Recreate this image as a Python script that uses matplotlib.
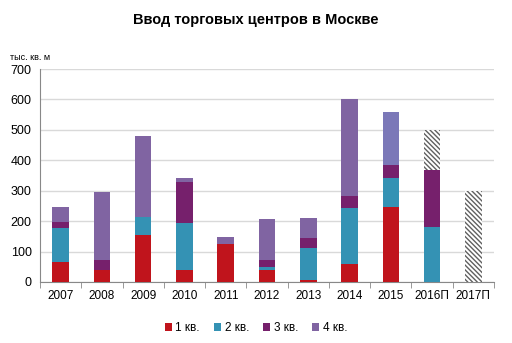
import matplotlib
matplotlib.use("Agg")
import matplotlib.pyplot as plt
import numpy as np

plt.rcParams['font.family'] = ['Liberation Sans Narrow', 'Liberation Sans', 'DejaVu Sans']

years = ["2007", "2008", "2009", "2010", "2011", "2012", "2013", "2014", "2015", "2016П", "2017П"]
q1 = [65, 39, 155, 39, 126, 39, 5, 58, 248, 0, 0]
q2 = [112, 0, 57, 156, 0, 9, 106, 184, 94, 180, 0]
q3 = [21, 33, 0, 132, 0, 24, 35, 42, 43, 188, 0]
q4 = [48, 223, 267, 16, 22, 134, 63, 317, 174, 0, 0]
forecast = [0, 0, 0, 0, 0, 0, 0, 0, 0, 132, 300]
q4_colors = ["#8064A2"] * 8 + ["#7B78B8", "#8064A2", "#8064A2"]

labels = ["1 кв.", "2 кв.", "3 кв.", "4 кв."]
colors = ["#C0141C", "#3492B4", "#76206C", "#8064A2"]

fig = plt.figure(figsize=(5.12, 3.43), dpi=100)
ax = fig.add_axes([40/512, 1 - 282/343, 454/512, 213/343])

x = np.arange(len(years))
w = 0.4
bottom = np.zeros(len(years))
series = [q1, q2, q3, q4]
for i, (s, c, l) in enumerate(zip(series, colors, labels)):
    col = q4_colors if i == 3 else c
    ax.bar(x, s, w, bottom=bottom, color=col, label=l, zorder=3, linewidth=0)
    bottom += np.array(s)

plt.rcParams['hatch.color'] = '#606060'
plt.rcParams['hatch.linewidth'] = 1.0
ax.bar(x, forecast, w, bottom=bottom, color='white', hatch='\\' * 7, edgecolor='#606060',
       linewidth=0, zorder=3)

ax.set_ylim(0, 700)
ax.set_xlim(-0.5, len(years) - 0.5)
ax.set_yticks(range(0, 701, 100))
ax.tick_params(axis='y', length=0, labelsize=9, pad=6)
ax.set_xticks(x)
ax.set_xticklabels(years)
ax.tick_params(axis='x', which='major', length=0, labelsize=8.5, pad=6)
ax.set_xticks(np.arange(-0.5, len(years), 1), minor=True)
ax.tick_params(axis='x', which='minor', length=4, color='#888888', direction='out')
ax.grid(axis='y', color='#D9D9D9', linewidth=1, zorder=0)
for s in ['top', 'right']:
    ax.spines[s].set_visible(False)
ax.spines['left'].set_color('#888888')
ax.spines['bottom'].set_color('#888888')

fig.text(0.5, 1 - 20/343, "Ввод торговых центров в Москве", ha='center', va='center',
         fontsize=10.5, fontweight='bold', family=['Liberation Sans', 'DejaVu Sans'])
fig.text(10/512, 1 - 57/343, "тыс. кв. м", ha='left', va='center', fontsize=6.5)

handles, lbls = ax.get_legend_handles_labels()
fig.legend(handles[:4], lbls[:4], loc='center', bbox_to_anchor=(256/512, 1 - 328/343), ncol=4,
           frameon=False, fontsize=8.5, handlelength=0.6, handleheight=0.6, handletextpad=0.3,
           columnspacing=1.2)

fig.savefig("out.png", dpi=100)
